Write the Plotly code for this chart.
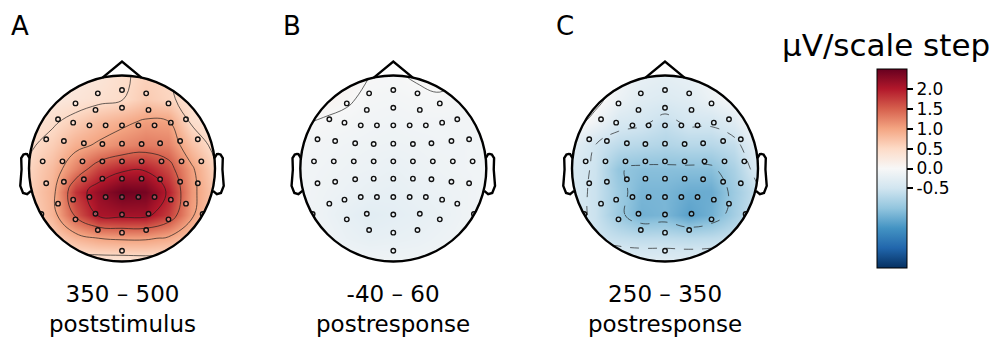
import numpy as np
import plotly.graph_objects as go

# ---------------- data ----------------
grid_u = [-1.0, -0.75, -0.5, -0.25, 0.0, 0.25, 0.5, 0.75, 1.0]
grid_v = [1.0, 0.75, 0.5, 0.25, 0.0, -0.25, -0.5, -0.75, -1.0]   # rows top -> bottom

map_a = [
    [0.20, 0.20, 0.25, 0.32, 0.45, 0.58, 0.52, 0.35, 0.30],
    [0.22, 0.25, 0.32, 0.40, 0.48, 0.65, 0.55, 0.38, 0.30],
    [0.35, 0.45, 0.62, 0.80, 0.92, 1.05, 1.02, 0.45, 0.30],
    [0.45, 0.62, 0.90, 1.05, 1.20, 1.30, 1.25, 0.75, 0.40],
    [0.55, 0.80, 1.25, 1.70, 1.92, 1.95, 1.65, 1.05, 0.55],
    [0.60, 0.88, 1.80, 2.20, 2.45, 2.40, 1.95, 1.10, 0.65],
    [0.55, 0.85, 1.55, 2.05, 2.10, 2.10, 1.75, 1.05, 0.65],
    [0.45, 0.60, 0.85, 1.00, 1.05, 1.05, 0.95, 0.70, 0.50],
    [0.30, 0.30, 0.30, 0.30, 0.30, 0.32, 0.35, 0.40, 0.40],
]
map_b = [
    [0.10, 0.10, 0.08, 0.00, -0.02, 0.02, 0.05, 0.00, -0.02],
    [0.10, 0.08, 0.03, -0.05, -0.06, -0.04, -0.02, -0.05, -0.05],
    [0.02, -0.02, -0.05, -0.08, -0.10, -0.08, -0.08, -0.08, -0.06],
    [-0.05, -0.08, -0.10, -0.12, -0.13, -0.12, -0.10, -0.10, -0.08],
    [-0.08, -0.10, -0.13, -0.15, -0.18, -0.15, -0.12, -0.10, -0.08],
    [-0.08, -0.12, -0.16, -0.20, -0.22, -0.18, -0.15, -0.12, -0.08],
    [-0.08, -0.14, -0.22, -0.28, -0.25, -0.22, -0.18, -0.12, -0.08],
    [-0.06, -0.10, -0.18, -0.22, -0.20, -0.18, -0.14, -0.10, -0.06],
    [-0.04, -0.06, -0.08, -0.10, -0.10, -0.10, -0.08, -0.06, -0.04],
]
map_c = [
    [0.25, 0.20, -0.05, -0.20, -0.25, -0.20, -0.05, 0.15, 0.25],
    [0.20, 0.10, -0.15, -0.30, -0.35, -0.30, -0.15, 0.00, 0.20],
    [0.12, -0.10, -0.40, -0.45, -0.58, -0.45, -0.45, -0.30, 0.10],
    [-0.25, -0.50, -0.65, -0.70, -0.75, -0.70, -0.70, -0.60, -0.20],
    [-0.40, -0.53, -0.98, -1.05, -1.05, -1.05, -1.05, -0.80, -0.35],
    [-0.40, -0.55, -0.90, -1.15, -1.15, -1.25, -1.25, -0.90, -0.55],
    [-0.40, -0.55, -0.92, -1.20, -1.15, -1.35, -1.20, -0.85, -0.50],
    [-0.30, -0.52, -0.60, -0.65, -0.65, -0.68, -0.65, -0.58, -0.40],
    [-0.20, -0.28, -0.30, -0.30, -0.30, -0.30, -0.30, -0.30, -0.25],
]

elec_x = [-0.26, 0.0, 0.26,
          -0.50, -0.285, 0.0, 0.285, 0.50,
          -0.688, -0.525, -0.35, -0.176, 0.0, 0.176, 0.35, 0.525, 0.688,
          -0.815, -0.625, -0.41, -0.211, 0.0, 0.211, 0.41, 0.625, 0.815,
          -0.853, -0.64, -0.425, -0.211, 0.0, 0.211, 0.425, 0.64, 0.853,
          -0.815, -0.625, -0.41, -0.211, 0.0, 0.211, 0.41, 0.625, 0.815,
          -0.688, -0.525, -0.35, -0.176, 0.0, 0.176, 0.35, 0.525, 0.688,
          -0.867, -0.50, -0.285, 0.0, 0.285, 0.50, 0.867,
          -0.26, 0.0, 0.26,
          0.0]
elec_y = [0.808, 0.844, 0.808,
          0.70, 0.63, 0.654, 0.63, 0.70,
          0.529, 0.493, 0.464, 0.464, 0.464, 0.464, 0.464, 0.493, 0.529,
          0.314, 0.296, 0.271, 0.263, 0.267, 0.263, 0.271, 0.296, 0.314,
          0.077, 0.077, 0.077, 0.077, 0.077, 0.077, 0.077, 0.077, 0.077,
          -0.159, -0.142, -0.116, -0.109, -0.109, -0.109, -0.116, -0.142, -0.159,
          -0.378, -0.335, -0.306, -0.306, -0.306, -0.306, -0.306, -0.335, -0.378,
          -0.489, -0.547, -0.486, -0.495, -0.486, -0.547, -0.489,
          -0.661, -0.690, -0.661,
          -0.884]

panel_letters = ["A", "B", "C"]
window_labels = ["350 – 500", "-40 – 60", "250 – 350"]
window_refs = ["poststimulus", "postresponse", "postresponse"]
cbar_title = "µV/scale step"
cbar_tickvals = [2.0, 1.5, 1.0, 0.5, 0.0, -0.5]
cbar_ticktext = ["2.0", "1.5", "1.0", "0.5", "0.0", "-0.5"]
vmin, vmax = -2.5, 2.5

# ---------------- layout geometry ----------------
W, H = 995, 339
FONT = "DejaVu Sans"
centers_px = [122.0, 393.3, 665.0]
cy_px = 168.5
R_PX = 93.0
SPAN = 1.3
half = SPAN * R_PX

rdbu_r = [
    [0.0, "#053061"], [0.1, "#2166ac"], [0.2, "#4393c3"], [0.3, "#92c5de"],
    [0.4, "#d1e5f0"], [0.5, "#f7f7f7"], [0.6, "#fddbc7"], [0.7, "#f4a582"],
    [0.8, "#d6604d"], [0.9, "#b2182b"], [1.0, "#67001f"],
]

fig = go.Figure()
maps = [map_a, map_b, map_c]
y_asc = grid_v[::-1]

# mask: square minus unit circle
theta = np.linspace(0, -2 * np.pi, 181)
circ = " ".join(f"L {np.cos(t)*1.0:.4f},{np.sin(t)*1.0:.4f}" for t in theta[1:])
mask_path = (f"M {-SPAN},{-SPAN} L {SPAN},{-SPAN} L {SPAN},{SPAN} L {-SPAN},{SPAN} Z "
             f"M 1.0,0 {circ} Z")

ear_x = np.array([.497, .510, .518, .5299, .5419, .54, .547, .532, .510, .489]) * 2
ear_y = np.array([.0555, .0775, .0783, .0746, .0555, -.0055, -.0932, -.1313, -.1384, -.1199]) * 2
def poly(xs, ys):
    return "M " + " L ".join(f"{x:.4f},{y:.4f}" for x, y in zip(xs, ys))
nose_dx, nose_dy = 0.2094, 0.9778

shapes = []
for i, (m, cx) in enumerate(zip(maps, centers_px)):
    k = "" if i == 0 else str(i + 1)
    xa, ya = "x" + k, "y" + k
    z = m[::-1]
    fig.add_trace(go.Heatmap(x=grid_u, y=y_asc, z=z, zsmooth="best",
                             coloraxis="coloraxis", xaxis=xa, yaxis=ya,
                             hoverinfo="skip"))
    fig.add_trace(go.Contour(x=grid_u, y=y_asc, z=z, showscale=False,
                             autocontour=False,
                             contours=dict(coloring="none", start=0.0, end=2.5, size=0.5),
                             line=dict(color="rgba(30,30,30,0.85)", width=0.8, smoothing=1.2),
                             xaxis=xa, yaxis=ya, hoverinfo="skip"))
    fig.add_trace(go.Contour(x=grid_u, y=y_asc, z=z, showscale=False,
                             autocontour=False,
                             contours=dict(coloring="none", start=-2.5, end=-0.5, size=0.5),
                             line=dict(color="rgba(30,30,30,0.85)", width=0.8, dash="dash",
                                       smoothing=1.2),
                             xaxis=xa, yaxis=ya, hoverinfo="skip"))
    fig.add_trace(go.Scatter(x=elec_x, y=elec_y, mode="markers",
                             marker=dict(symbol="circle", size=4.5,
                                         color="rgba(255,255,255,0.25)",
                                         line=dict(color="#111111", width=1.4)),
                             xaxis=xa, yaxis=ya, hoverinfo="skip", showlegend=False))
    # axes
    dom_x = [(cx - half) / W, (cx + half) / W]
    dom_y = [(H - cy_px - half) / H, (H - cy_px + half) / H]
    ax_common = dict(visible=False, range=[-SPAN, SPAN], fixedrange=True)
    fig.layout["xaxis" + k] = dict(domain=dom_x, anchor=ya, **ax_common)
    fig.layout["yaxis" + k] = dict(domain=dom_y, anchor=xa, **ax_common)

    shapes.append(dict(type="path", xref=xa, yref=ya, path=mask_path,
                       fillcolor="white", line=dict(width=0), layer="above"))
    lw = 2.4
    shapes.append(dict(type="circle", xref=xa, yref=ya, x0=-1, y0=-1, x1=1, y1=1,
                       line=dict(color="black", width=lw), layer="above"))
    shapes.append(dict(type="path", xref=xa, yref=ya, path=poly(ear_x, ear_y),
                       line=dict(color="black", width=lw), layer="above"))
    shapes.append(dict(type="path", xref=xa, yref=ya, path=poly(-ear_x, ear_y),
                       line=dict(color="black", width=lw), layer="above"))
    shapes.append(dict(type="path", xref=xa, yref=ya,
                       path=poly([-nose_dx, 0, nose_dx], [nose_dy, 1.15, nose_dy]),
                       line=dict(color="black", width=lw), layer="above"))

annotations = []
letter_x = [9, 281, 554]
for i, cx in enumerate(centers_px):
    annotations.append(dict(text=panel_letters[i], x=letter_x[i] / W, y=1 - 26 / H,
                            xref="paper", yref="paper", xanchor="left", yanchor="middle",
                            showarrow=False, font=dict(family=FONT, size=26, color="black")))
    annotations.append(dict(text=window_labels[i] + "<br>" + window_refs[i],
                            x=cx / W, y=1 - 309 / H,
                            xref="paper", yref="paper", xanchor="center", yanchor="middle",
                            align="center", borderpad=0,
                            showarrow=False, font=dict(family=FONT, size=23, color="black")))
annotations.append(dict(text=cbar_title, x=886 / W, y=1 - 45 / H,
                        xref="paper", yref="paper", xanchor="center", yanchor="middle",
                        showarrow=False, font=dict(family=FONT, size=31, color="black")))

fig.update_layout(
    width=W, height=H, margin=dict(l=0, r=0, t=0, b=0),
    paper_bgcolor="white", plot_bgcolor="white", showlegend=False,
    shapes=shapes, annotations=annotations,
    coloraxis=dict(colorscale=rdbu_r, cmin=vmin, cmax=vmax,
                   colorbar=dict(x=877 / W, xanchor="left", xpad=0, ypad=0,
                                 y=1 - cy_px / H, yanchor="middle",
                                 len=199, lenmode="pixels",
                                 thickness=30, thicknessmode="pixels",
                                 outlinewidth=1, outlinecolor="black",
                                 tickvals=cbar_tickvals, ticktext=cbar_ticktext,
                                 ticks="outside", ticklen=6, tickwidth=1.5,
                                 tickcolor="black",
                                 tickfont=dict(family=FONT, size=17, color="black"))),
)

fig.write_html("out.html")
